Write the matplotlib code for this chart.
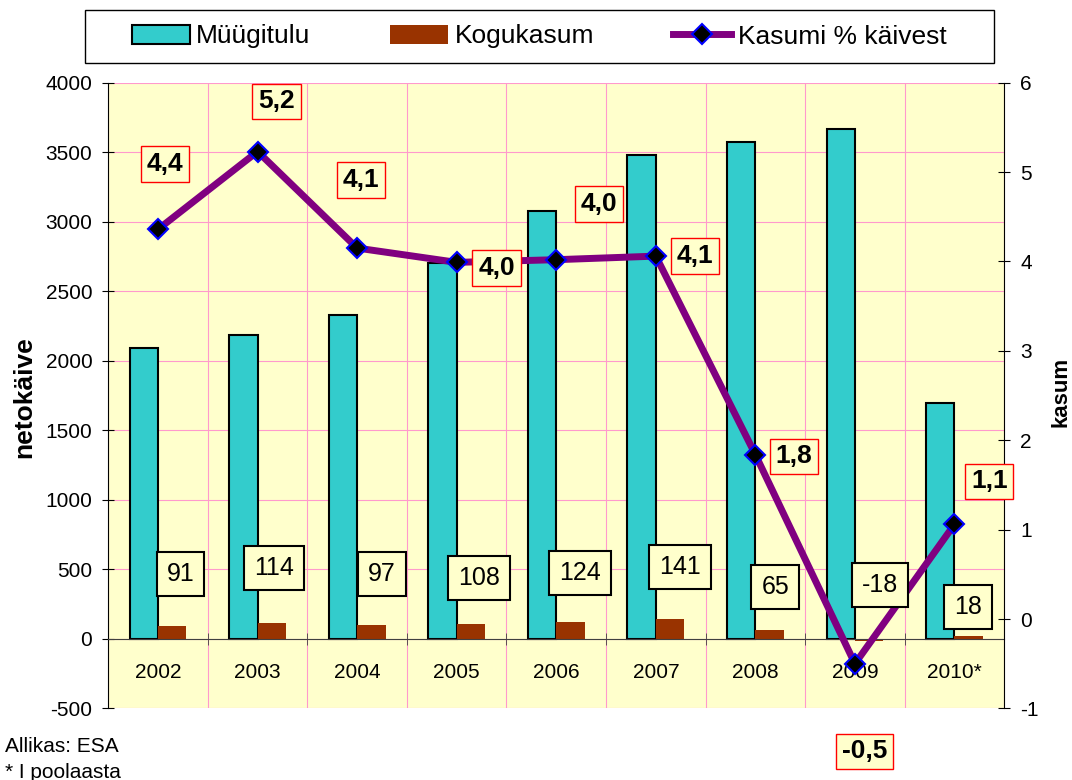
import matplotlib
matplotlib.use('Agg')
import matplotlib.pyplot as plt
from matplotlib.lines import Line2D
from matplotlib.patches import Patch, Rectangle
import numpy as np

plt.rcParams['font.family'] = ['Liberation Sans', 'DejaVu Sans']
plt.rcParams['axes.unicode_minus'] = False

years = ['2002', '2003', '2004', '2005', '2006', '2007', '2008', '2009', '2010*']
myygitulu = [2090, 2185, 2330, 2705, 3080, 3480, 3575, 3670, 1700]
kogukasum = [91, 114, 97, 108, 124, 141, 65, -18, 18]
kasumi_pct = [4.36, 5.23, 4.15, 3.99, 4.02, 4.06, 1.84, -0.50, 1.06]
pct_labels = ['4,4', '5,2', '4,1', '4,0', '4,0', '4,1', '1,8', '-0,5', '1,1']

# where the label boxes sit (category x, axis y)
pct_pos = [(0.07, 5.09), (1.19, 5.79), (2.04, 4.91), (3.40, 3.93), (4.43, 4.64),
           (5.39, 4.06), (6.39, 1.82), (7.10, -1.48), (8.35, 1.54)]
kasum_pos = [(0.225, 464), (1.164, 511), (2.249, 468), (3.22, 439), (4.24, 475),
             (5.24, 514), (6.20, 374), (7.25, 388), (8.14, 230)]

cyan = '#33CCCC'
brown = '#993300'
purple = '#800080'
bg = '#FFFFCC'
grid_c = '#FF99CC'

fig = plt.figure(figsize=(10.72, 7.8), dpi=100)
ax = fig.add_axes([0.1010, 0.0917, 0.8358, 0.8023])
ax.set_facecolor(bg)

x = np.arange(len(years))
w = 0.285
ax.bar(x - w/2, myygitulu, w, color=cyan, edgecolor='black', linewidth=1.5, zorder=2)
ax.bar(x + w/2, kogukasum, w, color=brown, zorder=2)

ax.set_xlim(-0.5, 8.5)
ax.set_ylim(-500, 4000)
ax.set_yticks(np.arange(-500, 4001, 500))
ax.set_xticks(x)
ax.set_xticklabels(years)
ax.set_xticks(np.arange(-0.5, 9, 1), minor=True)
ax.tick_params(axis='x', which='major', length=0, pad=17, labelsize=15)
ax.tick_params(axis='x', which='minor', length=9, direction='inout', color='#404040')
ax.tick_params(axis='y', direction='inout', length=9, labelsize=15, pad=7)
ax.grid(axis='y', color=grid_c, lw=0.8)
ax.grid(axis='x', which='minor', color=grid_c, lw=0.8)
ax.set_axisbelow(True)
ax.spines['bottom'].set_position(('data', 0))
ax.spines['bottom'].set_color('#404040')
ax.spines['top'].set_visible(False)
ax.spines['right'].set_visible(False)

# percent line on the right axis
ax2 = ax.twinx()
ax2.set_ylim(-1, 6)
ax2.set_yticks(range(-1, 7))
ax2.plot(x, kasumi_pct, color=purple, lw=5, marker='D', ms=10,
         mfc='black', mec='#0000FF', mew=1.5, zorder=3)
for s in ['left', 'top', 'bottom']:
    ax2.spines[s].set_visible(False)
ax2.tick_params(axis='y', direction='inout', length=9, labelsize=15, pad=7)

for (px, py), t in zip(pct_pos, pct_labels):
    ax2.text(px, py, t, ha='center', va='center', fontsize=19, fontweight='bold',
             bbox=dict(boxstyle='square,pad=0.22', fc=bg, ec='red', lw=1), zorder=5)

for (px, py), v in zip(kasum_pos, kogukasum):
    ax2.text(px, py, str(v), transform=ax.transData, ha='center', va='center', fontsize=18,
             bbox=dict(boxstyle='square,pad=0.4', fc=bg, ec='black', lw=1.5), zorder=6)

# legend
handles = [Patch(fc=cyan, ec='black', lw=1.5), Patch(fc=brown),
           Line2D([], [], color=purple, lw=5, marker='D', ms=10,
                  mfc='black', mec='#0000FF', mew=1.5)]
fig.legend(handles, ['Müügitulu', 'Kogukasum', 'Kasumi % käivest'], loc='center',
           bbox_to_anchor=(539/1072, 1 - 36.5/780), ncol=3, frameon=False, fontsize=19,
           handlelength=2.2, handleheight=0.7, handletextpad=0.25, columnspacing=3.0)
fig.patches.append(Rectangle((84.7/1072, 1 - 63/780), 909/1072, 53/780,
                             transform=fig.transFigure, fill=False, ec='black', lw=1))

fig.text(24/1072, 1 - 397/780, 'netokäive', rotation=90, ha='center', va='center',
         fontsize=19, fontweight='bold')
fig.text(1061/1072, 1 - 392/780, 'kasum', rotation=90, ha='center', va='center',
         fontsize=16, fontweight='bold')
fig.text(5/1072, 1 - 746/780, 'Allikas: ESA', ha='left', va='center', fontsize=15)
fig.text(5/1072, 1 - 772/780, '* I poolaasta', ha='left', va='center', fontsize=15)

fig.savefig('out.png', dpi=100)
